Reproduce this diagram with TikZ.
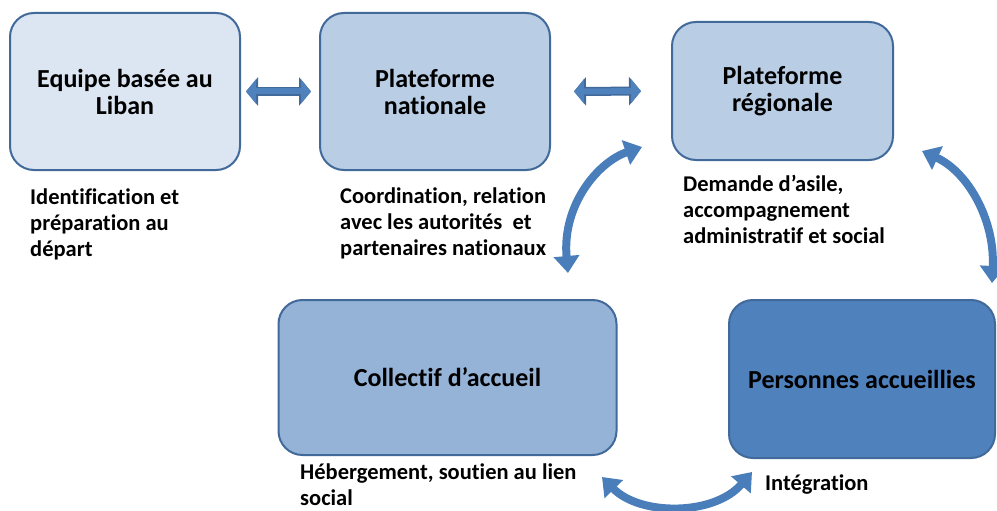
\documentclass[tikz,border=0pt]{standalone}
\usepackage{fontspec}
\setmainfont{Carlito}[Ligatures={NoCommon}]
\usetikzlibrary{arrows.meta}

\definecolor{boxline}{HTML}{41699A}
\definecolor{paleblue}{HTML}{DCE6F2}
\definecolor{lightblue}{HTML}{B9CDE5}
\definecolor{midblue}{HTML}{95B3D7}
\definecolor{darkblue}{HTML}{4F81BD}
\definecolor{arrowblue}{HTML}{4A7EBB}

\tikzset{
  box/.style={draw=boxline, line width=2pt, rounded corners=24pt, align=center,
    inner sep=0pt, font=\bfseries\fontsize{26}{27}\selectfont},
  note/.style={anchor=north west, align=left, inner sep=0pt,
    font=\bfseries\fontsize{22.5}{26}\selectfont},
  link/.style={draw=arrowblue, line width=8pt,
    {Triangle[width=25pt,length=17pt]}-{Triangle[width=25pt,length=17pt]}},
  bar/.style={draw=darkblue, line width=6pt,
    {Triangle[width=24pt,length=10pt]}-{Triangle[width=24pt,length=10pt]},
    preaction={draw=boxline, line width=9pt,
      {Triangle[width=28pt,length=12pt]}-{Triangle[width=28pt,length=12pt]}}}
}

\begin{document}
\begin{tikzpicture}[x=1pt,y=-1pt]
  \useasboundingbox (0,0) rectangle (997,511);

  \node[box, fill=paleblue, minimum width=230pt, minimum height=157pt] (equipe) at (125,91.5) {Equipe basée au\\Liban};
  \node[box, fill=lightblue, minimum width=230pt, minimum height=157pt] (nationale) at (435,91.5) {Plateforme\\nationale};
  \node[box, fill=lightblue, minimum width=221pt, minimum height=138pt] (regionale) at (782.5,91) {Plateforme\\régionale};
  \node[box, fill=midblue, minimum width=338pt, minimum height=155pt] (collectif) at (447.5,377.5) {Collectif d’accueil};
  \node[box, fill=darkblue, minimum width=266pt, minimum height=158pt] (personnes) at (862,379) {Personnes accueillies};

  \node[note] (identif) at (30,189) {Identification et\\préparation au\\départ};
  \node[note] (coord) at (340,188) {Coordination, relation\\avec les autorités~ et\\partenaires nationaux};
  \node[note] (asile) at (683,175) {Demande d’asile,\\accompagnement\\administratif et social};
  \node[note] (heberg) at (300,464) {Hébergement, soutien au lien\\social};
  \node[note] (integr) at (765,475) {Intégration};

  \draw[bar, shorten <=5pt, shorten >=8pt] (equipe.east) -- (nationale.west);
  \draw[bar, shorten <=23pt, shorten >=30pt] (nationale.east) -- (regionale.west);

  \coordinate (a1) at (568,273);
  \coordinate (a2) at (642,147);
  \coordinate (b1) at (922,151);
  \coordinate (b2) at (992,283);
  \coordinate (c1) at (602,477);
  \coordinate (c2) at (752,472);

  \draw[link] (a1) .. controls (562,205) and (598,162) .. (a2);
  \draw[link] (b1) .. controls (968,172) and (995,220) .. (b2);
  \draw[link] (c1) .. controls (640,516) and (714,516) .. (c2);
\end{tikzpicture}
\end{document}
